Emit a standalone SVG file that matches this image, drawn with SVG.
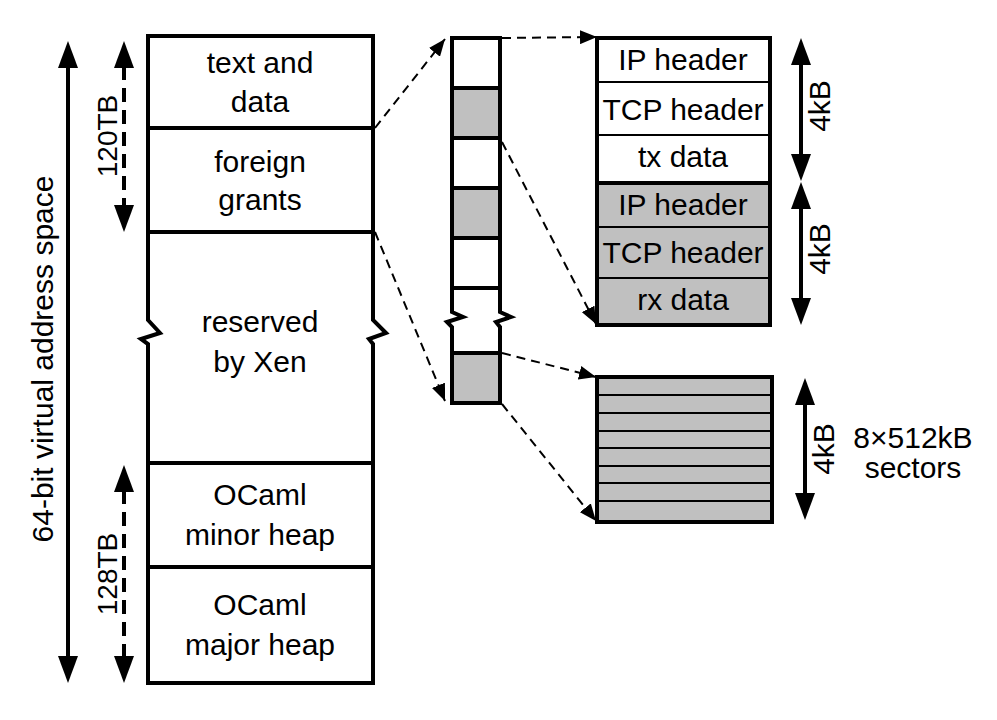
<svg xmlns="http://www.w3.org/2000/svg" width="997" height="720" viewBox="0 0 997 720">
<style>
  .lbl { font-family: "Liberation Sans", Arial, sans-serif; font-size: 30px; fill: #000; text-anchor: middle; }
  .box { fill: none; stroke: #000; stroke-width: 4; stroke-linejoin: miter; }
  .div { stroke: #000; stroke-width: 4; }
  .thin { stroke: #000; stroke-width: 2; }
  .grey { fill: #c0c0c0; }
  .white { fill: #fff; }
  .dash { fill: none; stroke: #000; stroke-width: 2; stroke-dasharray: 9 6; }
  .dimdash { fill: none; stroke: #000; stroke-width: 4; stroke-dasharray: 14 8; }
  .dim { fill: none; stroke: #000; stroke-width: 4; }
  .head { fill: #000; }
</style>
<defs>
  <marker id="ah" markerUnits="userSpaceOnUse" markerWidth="18" markerHeight="14" refX="17" refY="7" orient="auto">
    <path d="M0,0 L17,7 L0,14 z" fill="#000"/>
  </marker>
</defs>
<rect width="997" height="720" fill="#fff"/>

<g id="address-space-arrow">
  <line class="dim" x1="68" y1="62" x2="68" y2="662"/>
  <polygon class="head" points="68,41 58,68 78,68"/>
  <polygon class="head" points="68,683 58,656 78,656"/>
  <text class="lbl" transform="translate(53,359) rotate(-90)">64-bit virtual address space</text>
</g>

<g id="dim-120TB">
  <line class="dimdash" x1="124" y1="66" x2="124" y2="208"/>
  <polygon class="head" points="124,41 114,68 134,68"/>
  <polygon class="head" points="124,232 114,205 134,205"/>
  <text class="lbl" style="font-size:28px" transform="translate(117,136) rotate(-90)">120TB</text>
</g>

<g id="dim-128TB">
  <line class="dimdash" x1="124" y1="490" x2="124" y2="659"/>
  <polygon class="head" points="124,465 114,492 134,492"/>
  <polygon class="head" points="124,683 114,656 134,656"/>
  <text class="lbl" style="font-size:28px" transform="translate(117,574) rotate(-90)">128TB</text>
</g>

<g id="address-map">
  <path class="box" d="M148,36 H373 V320 L386,333 L369,339 L373,344 V683 H148 V344 L141,339 L160,333 L148,320 Z" fill="#fff"/>
  <line class="div" x1="148" y1="128" x2="373" y2="128"/>
  <line class="div" x1="148" y1="232" x2="373" y2="232"/>
  <line class="div" x1="148" y1="463" x2="373" y2="463"/>
  <line class="div" x1="148" y1="567" x2="373" y2="567"/>
  <text class="lbl" x="260" y="73">text and</text>
  <text class="lbl" x="260" y="112">data</text>
  <text class="lbl" x="260" y="172">foreign</text>
  <text class="lbl" x="260" y="210">grants</text>
  <text class="lbl" x="260" y="332">reserved</text>
  <text class="lbl" x="260" y="372">by Xen</text>
  <text class="lbl" x="260" y="505">OCaml</text>
  <text class="lbl" x="260" y="545">minor heap</text>
  <text class="lbl" x="260" y="615">OCaml</text>
  <text class="lbl" x="260" y="655">major heap</text>
</g>

<g id="page-column">
  <rect class="grey" x="452" y="88" width="48" height="50"/>
  <rect class="grey" x="452" y="188" width="48" height="50"/>
  <rect class="grey" x="452" y="353" width="48" height="50"/>
  <path class="box" d="M452,38 H500 V312 L511,317 L496,322 L500,327 V403 H452 V327 L447,322 L463,317 L452,312 Z"/>
  <line class="div" x1="452" y1="88" x2="500" y2="88"/>
  <line class="div" x1="452" y1="138" x2="500" y2="138"/>
  <line class="div" x1="452" y1="188" x2="500" y2="188"/>
  <line class="div" x1="452" y1="238" x2="500" y2="238"/>
  <line class="div" x1="452" y1="288" x2="500" y2="288"/>
  <line class="div" x1="452" y1="353" x2="500" y2="353"/>
</g>

<g id="packet-pages">
  <rect class="white" x="597" y="38" width="173" height="145"/>
  <rect class="grey" x="597" y="183" width="173" height="142"/>
  <line class="thin" x1="597" y1="82" x2="770" y2="82"/>
  <line class="thin" x1="597" y1="135" x2="770" y2="135"/>
  <line class="thin" x1="597" y1="227" x2="770" y2="227"/>
  <line class="thin" x1="597" y1="278" x2="770" y2="278"/>
  <line class="div" x1="597" y1="183" x2="770" y2="183"/>
  <rect class="box" x="597" y="38" width="173" height="287"/>
  <text class="lbl" x="683" y="70">IP header</text>
  <text class="lbl" x="683" y="120">TCP header</text>
  <text class="lbl" x="683" y="167">tx data</text>
  <text class="lbl" x="683" y="215">IP header</text>
  <text class="lbl" x="683" y="263">TCP header</text>
  <text class="lbl" x="683" y="310">rx data</text>
</g>

<g id="dim-4kB-tx">
  <line class="dim" x1="801" y1="62" x2="801" y2="158"/>
  <polygon class="head" points="801,38 791,65 811,65"/>
  <polygon class="head" points="801,181 791,154 811,154"/>
  <text class="lbl" transform="translate(830,106) rotate(-90)">4kB</text>
</g>
<g id="dim-4kB-rx">
  <line class="dim" x1="801" y1="206" x2="801" y2="300"/>
  <polygon class="head" points="801,182 791,209 811,209"/>
  <polygon class="head" points="801,325 791,298 811,298"/>
  <text class="lbl" transform="translate(830,249) rotate(-90)">4kB</text>
</g>

<g id="sector-page">
  <rect class="grey" x="597" y="377" width="175" height="145"/>
  <line class="thin" x1="597" y1="395" x2="772" y2="395"/>
  <line class="thin" x1="597" y1="413" x2="772" y2="413"/>
  <line class="thin" x1="597" y1="431" x2="772" y2="431"/>
  <line class="thin" x1="597" y1="448" x2="772" y2="448"/>
  <line class="thin" x1="597" y1="466" x2="772" y2="466"/>
  <line class="thin" x1="597" y1="483" x2="772" y2="483"/>
  <line class="thin" x1="597" y1="501" x2="772" y2="501"/>
  <rect class="box" x="597" y="377" width="175" height="145"/>
</g>

<g id="dim-4kB-sectors">
  <line class="dim" x1="805" y1="400" x2="805" y2="498"/>
  <polygon class="head" points="805,378 795,405 815,405"/>
  <polygon class="head" points="805,520 795,493 815,493"/>
  <text class="lbl" transform="translate(834,449) rotate(-90)">4kB</text>
  <text class="lbl" x="913" y="448">8×512kB</text>
  <text class="lbl" x="913" y="478">sectors</text>
</g>

<g id="connectors">
  <line class="dash" x1="375" y1="128" x2="445" y2="39" marker-end="url(#ah)"/>
  <line class="dash" x1="375" y1="232" x2="445" y2="401" marker-end="url(#ah)"/>
  <line class="dash" x1="502" y1="38" x2="597" y2="37" marker-end="url(#ah)"/>
  <line class="dash" x1="502" y1="142" x2="596" y2="324" marker-end="url(#ah)"/>
  <line class="dash" x1="502" y1="353" x2="596" y2="377" marker-end="url(#ah)"/>
  <line class="dash" x1="502" y1="404" x2="596" y2="521" marker-end="url(#ah)"/>
</g>
</svg>
